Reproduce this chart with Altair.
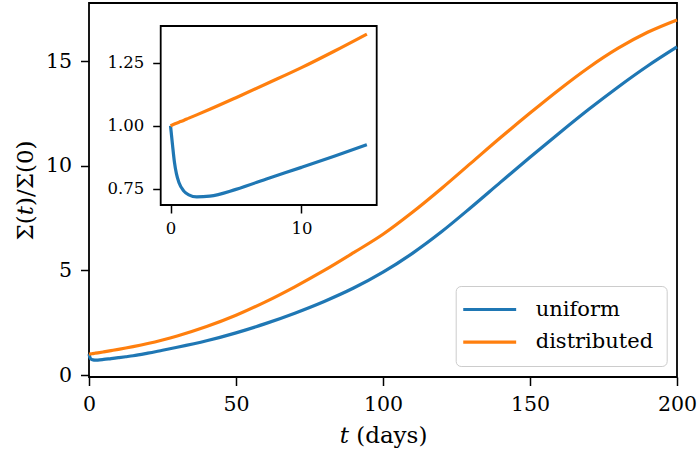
import altair as alt
import pandas as pd

# ---- data ----
t_days = [0, 0.15, 0.3, 0.45, 0.65, 1.0, 1.4, 2.0, 3.0, 5.0, 7.5, 10, 12.5, 15,
          20, 25, 30, 40, 50, 60, 70, 80, 90, 100, 110, 120, 130, 140, 150,
          160, 170, 180, 190, 200]
uniform = [1.000, 0.925, 0.855, 0.810, 0.774, 0.742, 0.726, 0.718, 0.721, 0.748,
           0.792, 0.835, 0.879, 0.925, 1.05, 1.19, 1.33, 1.64, 2.02, 2.46, 2.96,
           3.52, 4.16, 4.92, 5.82, 6.86, 8.02, 9.22, 10.41, 11.57, 12.70, 13.77,
           14.77, 15.68]
distributed = [1.000, 1.003, 1.007, 1.010, 1.014, 1.021, 1.030, 1.043, 1.065, 1.111,
               1.170, 1.230, 1.295, 1.363, 1.51, 1.68, 1.87, 2.32, 2.86, 3.50, 4.22,
               5.00, 5.85, 6.73, 7.78, 8.93, 10.14, 11.35, 12.52, 13.65, 14.70, 15.62,
               16.38, 16.97]
series_names = ["uniform", "distributed"]
series_colors = ["#1f77b4", "#ff7f0e"]

main_xlim = [0, 200]
main_ylim = [-0.09, 17.78]
main_xticks = [0, 50, 100, 150, 200]
main_yticks = [0, 5, 10, 15]

inset_tmax = 15
inset_xlim = [-0.75, 15.75]
inset_ylim = [0.686, 1.395]
inset_xticks = [0, 10]
inset_yticks = [0.75, 1.0, 1.25]

rows = []
for name, vals in zip(series_names, [uniform, distributed]):
    for t, v in zip(t_days, vals):
        rows.append({"t": t, "value": v, "series": name})
df = pd.DataFrame(rows)
frame_df = pd.DataFrame({"x0": [inset_xlim[0]], "x1": [inset_xlim[1]],
                         "y0": [inset_ylim[0]], "y1": [inset_ylim[1]]})

# ---- layout ----
W, H = 588, 374
PAD_L, PAD_T = 89, 3
inset_x_range = [71.7, 287.7]
inset_y_range = [202, 23]
FONT = "DejaVu Serif"
FS = 20.5
TFS = 23
LW = 3.2

color = alt.Color("series:N",
                  scale=alt.Scale(domain=series_names, range=series_colors),
                  legend=alt.Legend(title=None))

main = alt.Chart(df).mark_line(strokeWidth=LW, interpolate="monotone").encode(
    x=alt.X("t:Q", scale=alt.Scale(domain=main_xlim, nice=False, zero=False),
            axis=alt.Axis(values=main_xticks, title="𝑡 (days)", labelPadding=9,
                          titlePadding=9)),
    y=alt.Y("value:Q", scale=alt.Scale(domain=main_ylim, nice=False, zero=False),
            axis=alt.Axis(values=main_yticks, title="Σ(𝑡)/Σ(0)", labelPadding=9,
                          titlePadding=8)),
    color=color,
)

inset_xscale = alt.Scale(domain=inset_xlim, range=inset_x_range, nice=False, zero=False)
inset_yscale = alt.Scale(domain=inset_ylim, range=inset_y_range, nice=False, zero=False)
inset_xaxis = alt.Axis(orient="bottom", offset=-(H - inset_y_range[0]), values=inset_xticks,
                       format="d", title=None, labelFontSize=16.5, labelPadding=7,
                       tickSize=8)
inset_yaxis = alt.Axis(orient="left", offset=-inset_x_range[0], values=inset_yticks,
                       format=".2f", title=None, labelFontSize=16.5, labelPadding=9,
                       tickSize=8)

frame = alt.Chart(frame_df).mark_rect(fill="white", stroke="black", strokeWidth=1.8).encode(
    x=alt.X("x0:Q", scale=inset_xscale, axis=inset_xaxis),
    x2="x1:Q",
    y=alt.Y("y0:Q", scale=inset_yscale, axis=inset_yaxis),
    y2="y1:Q",
)
inset_lines = alt.Chart(df).transform_filter(alt.datum.t <= inset_tmax).mark_line(
    strokeWidth=LW, interpolate="monotone").encode(
    x=alt.X("t:Q", scale=inset_xscale, axis=inset_xaxis),
    y=alt.Y("value:Q", scale=inset_yscale, axis=inset_yaxis),
    color=color,
)
inset = alt.layer(frame, inset_lines)

chart = alt.layer(main, inset).resolve_scale(
    x="independent", y="independent"
).properties(
    width=W, height=H,
    padding={"left": PAD_L, "top": PAD_T, "right": 697 - PAD_L - W, "bottom": 456 - PAD_T - H},
    autosize=alt.AutoSizeParams(type="none"),
).configure(
    font=FONT
).configure_view(
    stroke="black", strokeWidth=1.8
).configure_axis(
    domain=False, tickColor="black", tickWidth=1.5, tickSize=8.5, labelFlush=False,
    labelFont=FONT, labelFontSize=FS, labelColor="black",
    titleFont=FONT, titleFontSize=TFS, titleFontWeight="normal", titleColor="black",
    grid=False,
).configure_legend(
    orient="none", legendX=366.7, legendY=283,
    fillColor="white", strokeColor="#cccccc", cornerRadius=5, padding=13,
    symbolType="M-5,0H5", symbolSize=112, symbolStrokeWidth=LW, symbolOffset=10.5,
    labelFont=FONT, labelFontSize=21, labelOffset=35.5, labelColor="black",
    rowPadding=10.7,
)

chart.save("out.html", embed_options={"renderer": "svg", "actions": False})
